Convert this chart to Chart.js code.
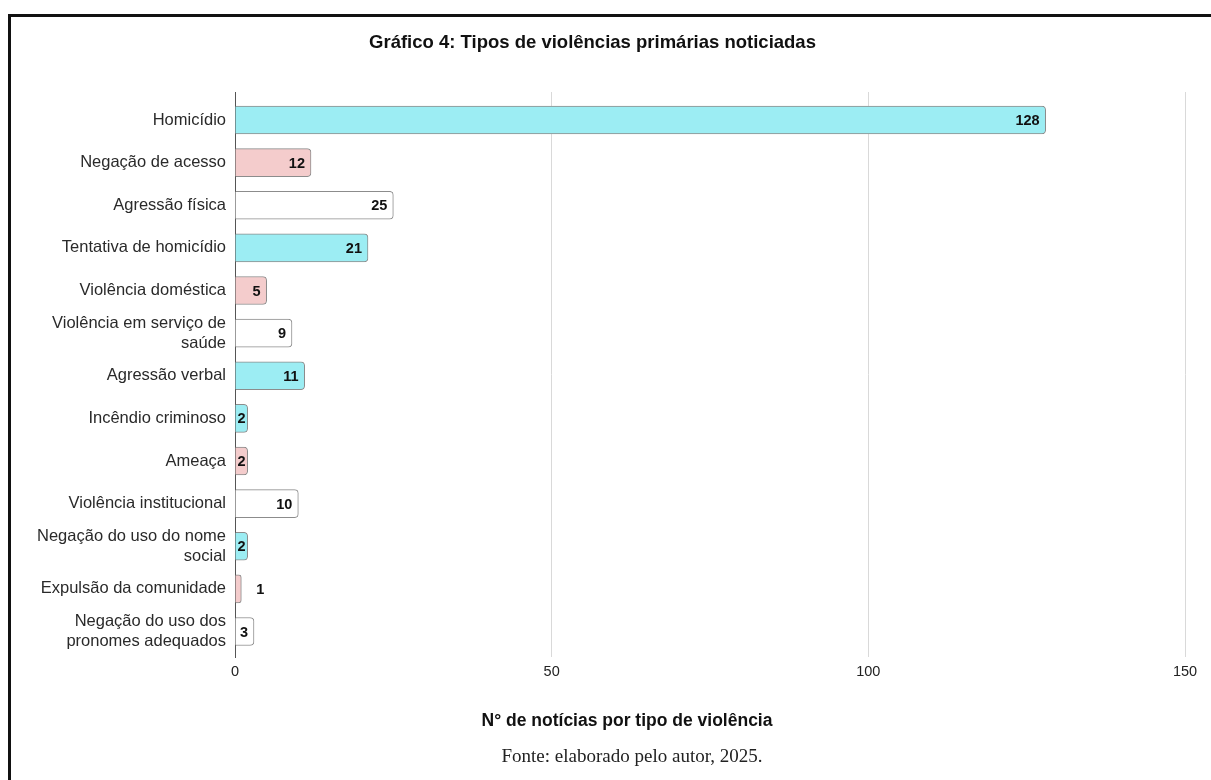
<!DOCTYPE html>
<html lang="pt-BR">
<head>
<meta charset="utf-8">
<title>Gráfico 4</title>
<script src="https://cdn.jsdelivr.net/npm/chart.js@4.4.1/dist/chart.umd.min.js"></script>
<style>
  html, body { margin: 0; padding: 0; background: #fff; }
  #wrap { position: relative; width: 1211px; height: 780px; overflow: hidden; }
  #frame {
    position: absolute; left: 8px; top: 14px; width: 1210px; height: 780px;
    border-left: 3px solid #111; border-top: 3px solid #111;
  }
  #chart { position: absolute; left: 0; top: 0; }
</style>
</head>
<body>
<div id="wrap">
  <div id="frame"></div>
  <canvas id="chart" width="1211" height="780"></canvas>
</div>
<script>
// ---------- Data ----------
const categories = [
  'Homicídio',
  'Negação de acesso',
  'Agressão física',
  'Tentativa de homicídio',
  'Violência doméstica',
  ['Violência em serviço de', 'saúde'],
  'Agressão verbal',
  'Incêndio criminoso',
  'Ameaça',
  'Violência institucional',
  ['Negação do uso do nome', 'social'],
  'Expulsão da comunidade',
  ['Negação do uso dos', 'pronomes adequados']
];
const noticias = [128, 12, 25, 21, 5, 9, 11, 2, 2, 10, 2, 1, 3];
const xTicks = [0, 50, 100, 150];

const chartTitle = 'Gráfico 4: Tipos de violências primárias noticiadas';
const axisTitle = 'N° de notícias por tipo de violência';
const footnote = 'Fonte: elaborado pelo autor, 2025.';

// bar fill per category
const CYAN = '#9cedf3', PINK = '#f4cccc', WHITE = '#ffffff';
const barColors = [CYAN, PINK, WHITE, CYAN, PINK, WHITE, CYAN, CYAN, PINK, WHITE, CYAN, PINK, WHITE];

const SANS = '"Liberation Sans", Arial, sans-serif';

// ---------- Value labels at the bar ends ----------
const valueLabels = {
  id: 'valueLabels',
  afterDatasetsDraw(chart) {
    const ctx = chart.ctx;
    const meta = chart.getDatasetMeta(0);
    ctx.save();
    ctx.font = 'bold 14.5px ' + SANS;
    ctx.fillStyle = '#111';
    ctx.textBaseline = 'middle';
    meta.data.forEach((bar, i) => {
      const txt = String(noticias[i]);
      const w = ctx.measureText(txt).width;
      const len = bar.x - bar.base;
      if (len < w + 3) {
        // too narrow: put it outside
        ctx.textAlign = 'left';
        ctx.fillText(txt, bar.x + 15, bar.y + 1);
      } else {
        ctx.textAlign = 'left';
        const left = Math.max(bar.base + 2, bar.x - 6 - w);
        ctx.fillText(txt, left, bar.y + 1);
      }
    });
    ctx.restore();
  }
};

// ---------- Axis title + source line ----------
const captions = {
  id: 'captions',
  afterDraw(chart) {
    const ctx = chart.ctx;
    ctx.save();
    ctx.textAlign = 'center';
    ctx.textBaseline = 'middle';
    ctx.fillStyle = '#111';
    ctx.font = 'bold 17.5px ' + SANS;
    ctx.fillText(axisTitle, 627, 721);
    ctx.fillStyle = '#222';
    ctx.font = '19px "Liberation Serif", "Times New Roman", serif';
    ctx.fillText(footnote, 632, 757);
    ctx.restore();
  }
};

new Chart(document.getElementById('chart'), {
  type: 'bar',
  data: {
    labels: categories,
    datasets: [{
      data: noticias,
      backgroundColor: barColors,
      borderColor: '#8c8c8c',
      borderWidth: 1,
      borderRadius: 4,
      borderSkipped: 'start',
      barThickness: 28
    }]
  },
  options: {
    indexAxis: 'y',
    responsive: false,
    animation: false,
    layout: { padding: { left: 0, right: 26, top: 0, bottom: 0 } },
    plugins: {
      legend: { display: false },
      tooltip: { enabled: false },
      title: {
        display: true,
        text: chartTitle,
        color: '#111',
        font: { family: SANS, size: 18.5, weight: 'bold' },
        padding: { top: 31.5, bottom: 38.3 }
      }
    },
    scales: {
      x: {
        type: 'linear',
        min: 0,
        max: 150,
        afterBuildTicks: s => { s.ticks = xTicks.map(v => ({ value: v })); },
        afterFit: s => { s.height = 123; },
        border: { display: false },
        grid: {
          drawTicks: false,
          color: c => (c.tick && c.tick.value === 0) ? 'rgba(0,0,0,0)' : '#d9d9d9',
          lineWidth: 1
        },
        ticks: {
          padding: 6,
          color: '#222',
          font: { family: SANS, size: 14.5 }
        }
      },
      y: {
        afterFit: s => { s.width = 235; },
        // a little extra room above the first and below the last category
        afterBuildTicks: s => {
          if (typeof s._startValue === 'number') {
            s._startValue -= 0.157;
            s._valueRange += 0.255;
          }
        },
        border: { display: true, color: '#555', width: 1 },
        grid: { display: false, drawTicks: false },
        ticks: {
          padding: 9,
          color: '#2a2a2a',
          font: { family: SANS, size: 16.5 }
        }
      }
    }
  },
  plugins: [valueLabels, captions]
});
</script>
</body>
</html>
